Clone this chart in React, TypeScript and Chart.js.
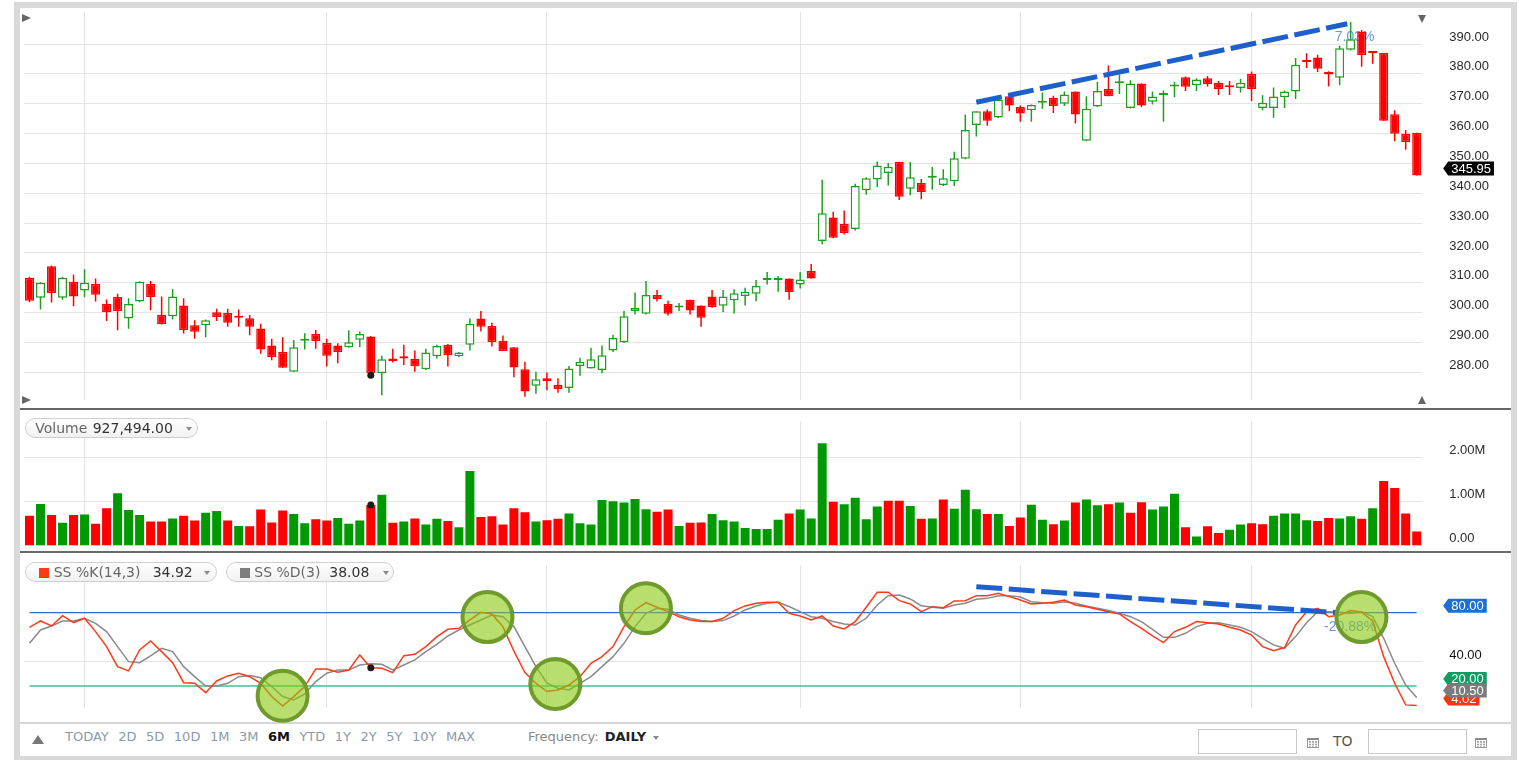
import React, { useEffect, useRef } from 'react';
import { Chart, registerables } from 'chart.js';

Chart.register(...registerables);

// ---------------- data ----------------
const OPEN = [311.7, 305.0, 315.5, 305.0, 310.3, 307.4, 309.6, 303.0, 305.2, 298.0,
  303.7, 309.6, 299.3, 298.8, 302.4, 295.8, 295.8, 300.1, 299.9, 298.8,
  298.1, 294.7, 289.0, 286.8, 280.2, 290.6, 292.8, 289.8, 289.0, 288.4,
  290.9, 292.0, 279.7, 284.6, 285.4, 284.5, 281.0, 285.4, 289.2, 285.4,
  289.2, 298.0, 295.5, 290.6, 288.4, 281.0, 275.5, 278.0, 275.8, 274.7,
  282.1, 281.3, 280.8, 287.3, 290.1, 300.5, 299.6, 305.9, 302.9, 301.7,
  304.3, 302.4, 305.4, 302.3, 304.1, 305.6, 306.3, 310.9, 310.9, 311.4,
  309.4, 313.9, 324.0, 331.9, 329.7, 328.0, 341.0, 344.6, 346.8, 350.5,
  341.5, 343.4, 345.2, 342.8, 344.0, 351.6, 362.9, 367.5, 365.4, 372.5,
  368.9, 367.8, 370.3, 372.0, 370.0, 374.1, 357.6, 369.1, 374.9, 376.9,
  368.6, 376.8, 370.7, 372.9, 375.8, 378.9, 376.2, 378.5, 377.0, 375.8,
  375.3, 380.0, 368.6, 368.6, 372.2, 374.1, 384.3, 385.5, 380.6, 378.7,
  388.1, 394.1, 387.1, 387.0, 366.5, 359.9, 360.3];
const HIGH = [312.0, 310.2, 315.8, 312.0, 312.8, 314.5, 311.4, 304.4, 306.3, 304.8,
  310.5, 310.6, 305.4, 307.9, 304.8, 297.4, 297.7, 301.3, 301.3, 301.0,
  299.2, 296.3, 291.2, 291.7, 290.8, 293.1, 294.2, 291.2, 289.7, 294.1,
  293.7, 292.2, 285.5, 287.9, 289.2, 287.3, 287.9, 289.2, 289.5, 286.8,
  298.0, 300.5, 296.6, 292.3, 288.4, 283.5, 280.2, 279.9, 278.0, 282.1,
  284.9, 288.2, 289.0, 292.6, 300.5, 306.7, 310.6, 307.6, 304.0, 303.2,
  304.3, 302.4, 307.6, 307.6, 307.8, 308.3, 310.9, 313.6, 312.3, 311.4,
  313.6, 316.3, 344.5, 333.8, 334.2, 343.2, 345.4, 350.6, 350.1, 350.5,
  350.5, 344.8, 348.8, 348.0, 353.9, 366.4, 367.5, 368.1, 372.2, 372.7,
  369.4, 369.7, 373.8, 372.7, 374.1, 374.1, 372.5, 377.4, 382.8, 379.8,
  377.9, 376.8, 374.1, 374.4, 377.4, 379.1, 378.5, 379.3, 377.6, 377.6,
  378.4, 380.8, 372.8, 375.4, 374.4, 385.3, 386.9, 386.4, 380.9, 389.4,
  397.4, 394.7, 387.1, 387.0, 367.8, 361.2, 360.3];
const LOW = [303.5, 301.0, 303.4, 304.3, 302.1, 305.2, 303.7, 297.2, 294.1, 294.6,
  303.5, 300.8, 296.0, 297.7, 293.0, 291.2, 291.7, 297.2, 295.3, 295.3,
  292.4, 286.2, 284.0, 281.5, 280.2, 287.6, 287.9, 281.9, 283.0, 288.2,
  288.4, 279.0, 272.3, 283.3, 282.4, 280.2, 280.8, 284.6, 281.9, 285.1,
  287.3, 293.7, 288.6, 287.1, 278.3, 271.8, 272.8, 274.0, 273.1, 273.1,
  278.8, 281.3, 279.7, 286.8, 289.8, 299.4, 299.4, 303.7, 299.0, 300.5,
  299.4, 295.3, 301.6, 300.2, 299.7, 302.4, 303.8, 309.4, 307.0, 304.3,
  308.1, 311.4, 322.9, 324.9, 326.2, 327.5, 339.5, 342.1, 342.6, 337.7,
  339.3, 338.0, 341.2, 342.4, 342.4, 351.4, 359.0, 362.6, 365.2, 367.5,
  364.0, 364.0, 368.3, 366.9, 369.2, 363.4, 357.4, 368.9, 372.5, 373.3,
  368.4, 368.9, 369.7, 364.0, 372.2, 374.3, 374.3, 375.8, 372.9, 372.9,
  373.8, 370.9, 367.8, 365.3, 368.6, 371.6, 382.0, 380.6, 375.8, 376.2,
  387.8, 382.4, 383.4, 364.3, 357.4, 354.6, 345.95];
const CLOSE = [304.0, 310.0, 306.6, 311.7, 305.4, 310.0, 306.0, 300.1, 300.5, 302.9,
  310.3, 305.2, 296.1, 305.4, 294.1, 293.6, 297.4, 298.5, 296.6, 298.3,
  295.3, 287.6, 285.1, 281.5, 288.4, 291.2, 290.4, 285.5, 286.8, 290.1,
  292.8, 279.7, 284.4, 283.8, 284.6, 282.0, 286.6, 288.8, 285.7, 286.6,
  296.3, 295.3, 290.1, 287.1, 281.6, 273.6, 277.7, 277.0, 274.4, 281.3,
  283.5, 284.4, 285.7, 291.5, 298.8, 301.6, 305.9, 304.5, 299.6, 301.9,
  300.7, 298.3, 301.9, 305.4, 306.5, 307.0, 308.9, 311.2, 311.7, 306.8,
  311.1, 311.4, 333.3, 325.1, 326.7, 342.4, 345.0, 349.3, 348.9, 338.8,
  345.4, 340.4, 345.5, 345.0, 351.7, 361.2, 367.5, 364.3, 371.4, 369.4,
  366.7, 369.6, 370.6, 369.2, 373.1, 366.4, 368.3, 374.3, 372.5, 377.2,
  376.8, 369.4, 372.4, 373.1, 376.1, 375.7, 378.1, 376.5, 374.9, 375.5,
  377.0, 374.9, 370.3, 372.4, 374.1, 383.1, 384.0, 381.7, 379.8, 388.6,
  391.6, 386.3, 387.0, 364.3, 359.9, 357.2, 345.95];
const VOLUME = [680000, 950000, 700000, 520000, 700000, 710000, 500000, 850000, 1190000, 810000,
  700000, 550000, 550000, 620000, 680000, 570000, 750000, 790000, 570000, 450000,
  440000, 820000, 530000, 800000, 720000, 510000, 600000, 570000, 630000, 500000,
  570000, 927494, 1160000, 520000, 550000, 620000, 480000, 610000, 560000, 420000,
  1700000, 650000, 670000, 480000, 850000, 760000, 550000, 580000, 610000, 730000,
  510000, 480000, 1040000, 1010000, 980000, 1060000, 830000, 770000, 820000, 450000,
  520000, 530000, 720000, 580000, 550000, 400000, 380000, 380000, 590000, 730000,
  820000, 620000, 2330000, 1000000, 940000, 1090000, 600000, 890000, 1020000, 1020000,
  900000, 610000, 620000, 1050000, 840000, 1270000, 830000, 720000, 720000, 450000,
  640000, 930000, 590000, 490000, 570000, 980000, 1050000, 920000, 940000, 980000,
  750000, 990000, 820000, 890000, 1180000, 420000, 210000, 440000, 290000, 360000,
  480000, 510000, 490000, 680000, 730000, 730000, 580000, 560000, 630000, 620000,
  670000, 610000, 850000, 1470000, 1310000, 730000, 320000];
const PCT_K = [68.0, 73.2, 69.1, 77.6, 71.8, 75.4, 64.5, 52.2, 35.8, 32.3,
  49.5, 56.8, 48.1, 39.1, 22.7, 22.2, 14.5, 24.1, 28.2, 30.4,
  27.6, 22.2, 11.3, 3.6, 11.3, 19.5, 33.9, 33.9, 31.2, 33.1,
  45.4, 34.92, 34.5, 30.9, 44.8, 45.9, 52.2, 60.4, 66.4, 67.2,
  74.0, 80.3, 78.9, 68.6, 48.5, 31.0, 22.2, 15.4, 16.7, 20.8,
  27.6, 38.6, 44.0, 52.2, 68.6, 82.2, 88.2, 84.4, 80.8, 76.7,
  74.0, 72.7, 72.7, 75.4, 81.7, 85.5, 87.7, 88.5, 88.5, 79.5,
  77.3, 74.0, 77.3, 69.1, 66.7, 72.7, 84.4, 96.7, 96.7, 89.8,
  87.1, 80.8, 84.9, 84.1, 89.6, 89.8, 93.9, 93.9, 95.8, 93.1,
  90.4, 87.1, 87.7, 88.5, 90.4, 86.3, 84.9, 82.7, 80.8, 78.9,
  72.7, 67.2, 60.9, 55.5, 64.5, 68.0, 72.7, 71.8, 70.7, 68.0,
  65.8, 61.7, 52.2, 48.9, 51.4, 69.9, 80.8, 83.6, 76.7, 78.1,
  81.7, 80.3, 73.2, 44.0, 22.2, 4.5, 4.02];
const PCT_D = [54.9, 65.8, 69.1, 73.2, 73.2, 75.4, 71.3, 64.5, 52.2, 39.9,
  39.1, 44.6, 50.8, 48.1, 35.8, 27.6, 20.0, 20.0, 22.2, 27.6,
  28.5, 26.8, 19.5, 11.3, 8.5, 13.5, 23.6, 30.4, 33.1, 33.1,
  37.2, 38.08, 37.7, 33.1, 37.2, 41.3, 48.1, 54.1, 60.9, 65.8,
  69.9, 74.0, 78.1, 76.7, 68.6, 52.2, 35.8, 22.2, 18.1, 16.7,
  22.2, 27.6, 35.8, 44.0, 54.9, 68.6, 79.5, 83.6, 82.7, 78.1,
  75.4, 73.5, 72.7, 73.5, 77.3, 82.2, 85.5, 87.7, 88.5, 85.0,
  80.8, 76.7, 75.4, 72.7, 70.7, 69.9, 75.4, 86.3, 93.9, 94.5,
  91.2, 85.7, 84.4, 83.6, 86.3, 87.7, 91.0, 91.7, 93.9, 93.9,
  92.8, 89.0, 88.2, 87.7, 89.0, 87.7, 85.5, 83.6, 81.7, 79.5,
  76.7, 72.7, 66.4, 59.8, 59.8, 63.1, 68.6, 71.3, 71.8, 69.9,
  68.0, 64.5, 59.0, 53.6, 50.8, 60.4, 71.8, 80.8, 80.8, 80.3,
  79.5, 80.8, 76.7, 59.0, 38.6, 20.8, 10.5];

const LABELS = CLOSE.map((_, i) => `D${i + 1}`);
const MONTH_START_INDEX = [5, 27, 47, 70, 90, 111];
const PRICE_TICKS = [280, 290, 300, 310, 320, 330, 340, 350, 360, 370, 380, 390];
const VOLUME_TICKS = [0, 1000000, 2000000];
const STOCH_TICKS = [40];
const STOCH_OVERBOUGHT = 80;
const STOCH_OVERSOLD = 20;
const HOVER_INDEX = 31;
const PERIODS = ['TODAY', '2D', '5D', '10D', '1M', '3M', '6M', 'YTD', '1Y', '2Y', '5Y', '10Y', 'MAX'];
const ACTIVE_PERIOD = '6M';

// annotations, in data coordinates (category index, value)
const PRICE_TREND = { from: [86.0, 370.5], to: [119.7, 396.8] };
const PRICE_TREND_LABEL = { text: '7.03%', at: [120.36, 392.4] };
const STOCH_TREND = { from: [86.0, 101.2], to: [118.75, 80.0] };
const STOCH_TREND_LABEL = { text: '-20.88%', at: [119.95, 68.2] };
const STOCH_CIRCLES = [[22.99, 12.0], [41.6, 76.4], [47.76, 21.6], [55.99, 83.6], [120.98, 76.4]];

// ---------------- style ----------------
const RED = '#ff0000';
const GREEN = '#1f9f1f';
const VOL_GREEN = '#009a00';
const K_COLOR = '#ff3a1a';
const D_COLOR = '#8a8a8a';
const GRID = '#e4e4e4';
const AXIS_FONT = '"Liberation Sans", Arial, sans-serif';
const UI_FONT = '"DejaVu Sans", Verdana, sans-serif';
const CANVAS_W = 1491;
const PAD_LEFT = 0.8;
const AXIS_W = 88.8;

function zeroPadding(s: any) {
  s.paddingTop = 0;
  s.paddingBottom = 0;
  s.paddingLeft = 0;
  s.paddingRight = 0;
}

function xScale(): any {
  return {
    type: 'category',
    offset: true,
    grid: {
      offset: false,
      drawTicks: false,
      lineWidth: 1,
      color: (c: any) => (MONTH_START_INDEX.includes(c.index) ? GRID : 'rgba(0,0,0,0)'),
    },
    ticks: { display: false, autoSkip: false },
    border: { display: false },
    afterFit: (s: any) => { s.height = 0; zeroPadding(s); },
  };
}

function yScale(min: number, max: number, ticks: number[], fmt: (v: number) => string, color: string, offset: number): any {
  return {
    position: 'right',
    min,
    max,
    afterBuildTicks: (s: any) => { s.ticks = ticks.map((v) => ({ value: v })); },
    afterFit: (s: any) => { s.width = AXIS_W; zeroPadding(s); },
    grid: { color: GRID, drawTicks: true, tickLength: 27, tickColor: 'rgba(0,0,0,0)', lineWidth: 1 },
    border: { display: false },
    ticks: {
      padding: 0,
      labelOffset: offset,
      color,
      font: { family: AXIS_FONT, size: 13 },
      callback: (v: any) => fmt(Number(v)),
    },
  };
}

function baseOptions(padding: any, y: any): any {
  return {
    responsive: false,
    animation: false,
    devicePixelRatio: 1,
    events: [],
    layout: { padding },
    plugins: { legend: { display: false }, tooltip: { enabled: false } },
    scales: { x: xScale(), y },
  };
}

function drawFlag(ctx: CanvasRenderingContext2D, tipX: number, cy: number, text: string, bg: string) {
  ctx.save();
  ctx.font = `13px ${AXIS_FONT}`;
  const w = ctx.measureText(text).width;
  const h = 14;
  const x0 = tipX + 5;
  const x1 = tipX + 8 + w + 3;
  ctx.beginPath();
  ctx.moveTo(tipX, cy);
  ctx.lineTo(x0, cy - h / 2);
  ctx.lineTo(x1, cy - h / 2);
  ctx.lineTo(x1, cy + h / 2);
  ctx.lineTo(x0, cy + h / 2);
  ctx.closePath();
  ctx.fillStyle = bg;
  ctx.fill();
  ctx.fillStyle = '#ffffff';
  ctx.textAlign = 'left';
  ctx.textBaseline = 'middle';
  ctx.fillText(text, tipX + 8, cy + 0.5);
  ctx.restore();
}

function drawDashed(ctx: CanvasRenderingContext2D, chart: any, seg: any) {
  const { x, y } = chart.scales;
  ctx.save();
  ctx.strokeStyle = '#1e5fcc';
  ctx.lineWidth = 5;
  ctx.setLineDash([26, 6.5]);
  ctx.lineCap = 'butt';
  ctx.beginPath();
  ctx.moveTo(x.getPixelForValue(seg.from[0]), y.getPixelForValue(seg.from[1]));
  ctx.lineTo(x.getPixelForValue(seg.to[0]), y.getPixelForValue(seg.to[1]));
  ctx.stroke();
  ctx.restore();
}

function drawLabel(ctx: CanvasRenderingContext2D, chart: any, lab: any) {
  const { x, y } = chart.scales;
  ctx.save();
  ctx.font = `14px ${AXIS_FONT}`;
  ctx.fillStyle = '#6b93e2';
  ctx.textAlign = 'center';
  ctx.textBaseline = 'middle';
  ctx.fillText(lab.text, x.getPixelForValue(lab.at[0]), y.getPixelForValue(lab.at[1]));
  ctx.restore();
}

const pricePlugin = {
  id: 'priceAnnotations',
  beforeDatasetsDraw(chart: any) { drawLabel(chart.ctx, chart, PRICE_TREND_LABEL); },
  afterDatasetsDraw(chart: any) { drawDashed(chart.ctx, chart, PRICE_TREND); },
  afterDraw(chart: any) {
    const last = CLOSE[CLOSE.length - 1];
    drawFlag(chart.ctx, chart.chartArea.right + 21, chart.scales.y.getPixelForValue(last) - 7, last.toFixed(2), '#000000');
  },
};

const stochPlugin = {
  id: 'stochAnnotations',
  beforeDatasetsDraw(chart: any) {
    const { ctx } = chart;
    const { x, y } = chart.scales;
    const x0 = x.getPixelForValue(0);
    const x1 = x.getPixelForValue(PCT_K.length - 1);
    ctx.save();
    ctx.lineWidth = 1.2;
    ctx.strokeStyle = '#3568d4';
    ctx.beginPath();
    ctx.moveTo(x0, y.getPixelForValue(STOCH_OVERBOUGHT));
    ctx.lineTo(x1, y.getPixelForValue(STOCH_OVERBOUGHT));
    ctx.stroke();
    ctx.lineWidth = 1.6;
    ctx.strokeStyle = '#3ec490';
    ctx.beginPath();
    ctx.moveTo(x0, y.getPixelForValue(STOCH_OVERSOLD));
    ctx.lineTo(x1, y.getPixelForValue(STOCH_OVERSOLD));
    ctx.stroke();
    ctx.restore();
    drawLabel(ctx, chart, STOCH_TREND_LABEL);
  },
  afterDatasetsDraw(chart: any) {
    const { ctx } = chart;
    const { x, y } = chart.scales;
    drawDashed(ctx, chart, STOCH_TREND);
    ctx.save();
    for (const [i, v] of STOCH_CIRCLES) {
      ctx.beginPath();
      ctx.arc(x.getPixelForValue(i), y.getPixelForValue(v), 25, 0, Math.PI * 2);
      ctx.fillStyle = 'rgba(137,200,13,0.6)';
      ctx.fill();
      ctx.lineWidth = 4;
      ctx.strokeStyle = '#6e9b2c';
      ctx.stroke();
    }
    ctx.restore();
  },
  afterDraw(chart: any) {
    const { ctx } = chart;
    const y = chart.scales.y;
    const tip = chart.chartArea.right + 21;
    const lastK = PCT_K[PCT_K.length - 1];
    const lastD = PCT_D[PCT_D.length - 1];
    drawFlag(ctx, tip, y.getPixelForValue(STOCH_OVERBOUGHT) - 7, STOCH_OVERBOUGHT.toFixed(2), '#1d6fd6');
    drawFlag(ctx, tip, y.getPixelForValue(STOCH_OVERSOLD) - 7, STOCH_OVERSOLD.toFixed(2), '#0f9e62');
    drawFlag(ctx, tip, y.getPixelForValue(lastK) - 7, lastK.toFixed(2), '#ff3311');
    drawFlag(ctx, tip, y.getPixelForValue(lastD) - 7, lastD.toFixed(2), '#7b7b7b');
  },
};

function priceConfig(): any {
  const up = CLOSE.map((c, i) => c >= OPEN[i]);
  return {
    type: 'bar',
    data: {
      labels: LABELS,
      datasets: [
        {
          type: 'line',
          data: CLOSE.map((_, i) => (i === HOVER_INDEX ? LOW[i] : null)),
          showLine: false,
          pointRadius: 3.5,
          pointBorderWidth: 0,
          pointBackgroundColor: '#1b1b1b',
          pointBorderColor: '#1b1b1b',
        },
        {
          data: OPEN.map((o, i) => [o, CLOSE[i]]),
          backgroundColor: up.map((u) => (u ? '#ffffff' : RED)),
          borderColor: up.map((u) => (u ? GREEN : RED)),
          borderWidth: 1.5,
          borderSkipped: false,
          barThickness: 9,
          minBarLength: 2,
          grouped: false,
          inflateAmount: 0,
        },
        {
          data: LOW.map((l, i) => [l, HIGH[i]]),
          backgroundColor: up.map((u) => (u ? GREEN : RED)),
          borderWidth: 0,
          barThickness: 1.5,
          grouped: false,
          inflateAmount: 0,
        },
      ],
    },
    options: baseOptions(
      { left: PAD_LEFT, right: 0, top: 0, bottom: 0 },
      yScale(270.71, 400.74, PRICE_TICKS, (v) => v.toFixed(2), '#2a2a2a', -7),
    ),
    plugins: [pricePlugin],
  };
}

function volumeConfig(): any {
  const colors = VOLUME.map((_, i) => {
    const up = i === 0 ? CLOSE[0] >= OPEN[0] : CLOSE[i] >= CLOSE[i - 1];
    return up ? VOL_GREEN : RED;
  });
  return {
    type: 'bar',
    data: {
      labels: LABELS,
      datasets: [
        {
          type: 'line',
          data: VOLUME.map((v, i) => (i === HOVER_INDEX ? v : null)),
          showLine: false,
          pointRadius: 3.5,
          pointBorderWidth: 0,
          pointBackgroundColor: '#1b1b1b',
          pointBorderColor: '#1b1b1b',
        },
        {
          data: VOLUME,
          backgroundColor: colors,
          borderWidth: 0,
          barThickness: 9,
          grouped: false,
          inflateAmount: 0,
        },
      ],
    },
    options: baseOptions(
      { left: PAD_LEFT, right: 0, top: 11, bottom: 4.3 },
      yScale(0, 2834000, VOLUME_TICKS, (v) => (v === 0 ? '0.00' : (v / 1e6).toFixed(2) + 'M'), '#2a2a2a', -7),
    ),
  };
}

function stochConfig(): any {
  return {
    type: 'line',
    data: {
      labels: LABELS,
      datasets: [
        {
          data: PCT_K.map((v, i) => (i === HOVER_INDEX ? v : null)),
          showLine: false,
          pointRadius: 3.5,
          pointBorderWidth: 0,
          pointBackgroundColor: '#1b1b1b',
          pointBorderColor: '#1b1b1b',
        },
        { data: PCT_K, borderColor: K_COLOR, borderWidth: 1.5, pointRadius: 0, tension: 0, fill: false },
        { data: PCT_D, borderColor: D_COLOR, borderWidth: 1.5, pointRadius: 0, tension: 0, fill: false },
      ],
    },
    options: baseOptions(
      { left: PAD_LEFT, right: 0, top: 12, bottom: 16 },
      yScale(1.96, 119.0, STOCH_TICKS, (v) => v.toFixed(2), '#111111', -6),
    ),
    plugins: [stochPlugin],
  };
}

// ---------------- UI bits ----------------
const abs = (left: number, top: number, extra: any = {}): any => ({ position: 'absolute', left, top, ...extra });

function Caret({ left, top }: { left: number; top: number }) {
  return (
    <div style={abs(left, top, {
      width: 0, height: 0,
      borderLeft: '3.5px solid transparent', borderRight: '3.5px solid transparent', borderTop: '4px solid #8a8a8a',
    })} />
  );
}

function Pill({ left, top, width, children }: any) {
  return (
    <div style={abs(left, top, {
      width, height: 20.6, boxSizing: 'border-box', border: '1px solid #cfcfcf', borderRadius: 11,
      background: 'linear-gradient(#ffffff, #f1f1f1)', fontFamily: UI_FONT, fontSize: 14, lineHeight: '19px',
    })}>{children}</div>
  );
}

function CalendarIcon({ left, top }: { left: number; top: number }) {
  return (
    <div style={abs(left, top, {
      width: 12, height: 10, boxSizing: 'border-box', border: '1px solid #9a9a9a', borderTop: '2px solid #8a8a8a',
      backgroundColor: '#a8a8a8',
      backgroundImage: 'linear-gradient(#ffffff 1px, transparent 1px), linear-gradient(90deg, #ffffff 1px, transparent 1px)',
      backgroundSize: '3px 2.7px',
    })} />
  );
}

export default function App() {
  const priceRef = useRef<HTMLCanvasElement>(null);
  const volRef = useRef<HTMLCanvasElement>(null);
  const stochRef = useRef<HTMLCanvasElement>(null);

  useEffect(() => {
    document.body.style.overflow = 'hidden';
    const charts = [
      new Chart(priceRef.current as HTMLCanvasElement, priceConfig()),
      new Chart(volRef.current as HTMLCanvasElement, volumeConfig()),
      new Chart(stochRef.current as HTMLCanvasElement, stochConfig()),
    ];
    return () => charts.forEach((c) => c.destroy());
  }, []);

  const volText = VOLUME[HOVER_INDEX].toLocaleString('en-US', { minimumFractionDigits: 2, maximumFractionDigits: 2 });

  return (
    <div style={{
      position: 'absolute', left: 14, top: 2, width: 1503, height: 758, boxSizing: 'border-box',
      borderStyle: 'solid', borderColor: '#d9d9d9', borderWidth: '6px 6px 4px 6px', background: '#ffffff',
    }}>
      <div style={abs(0, 714.3, { width: CANVAS_W, height: 1.5, background: '#d6d6d6' })} />

      <canvas ref={priceRef} width={CANVAS_W} height={396} style={abs(0, 0, { width: CANVAS_W, height: 396 })} />
      <canvas ref={volRef} width={CANVAS_W} height={140} style={abs(0, 402, { width: CANVAS_W, height: 140 })} />
      <canvas ref={stochRef} width={CANVAS_W} height={171} style={abs(0, 545, { width: CANVAS_W, height: 171 })} />

      <div style={abs(0, 399.5, { width: CANVAS_W, height: 2.5, background: '#666666' })} />
      <div style={abs(0, 542.8, { width: CANVAS_W, height: 2.4, background: '#6a6a6a' })} />

      <div style={abs(2, 6, { width: 0, height: 0, borderTop: '4.5px solid transparent', borderBottom: '4.5px solid transparent', borderLeft: '9px solid #666' })} />
      <div style={abs(2, 388, { width: 0, height: 0, borderTop: '4.5px solid transparent', borderBottom: '4.5px solid transparent', borderLeft: '9px solid #666' })} />
      <div style={abs(1398.3, 6.5, { width: 0, height: 0, borderLeft: '4.5px solid transparent', borderRight: '4.5px solid transparent', borderTop: '8.5px solid #666' })} />
      <div style={abs(1397.7, 388, { width: 0, height: 0, borderLeft: '4.8px solid transparent', borderRight: '4.8px solid transparent', borderBottom: '8.5px solid #666' })} />

      <Pill left={5} top={409.7} width={173}>
        <span style={abs(9.3, 0, { color: '#666' })}>Volume</span>
        <span style={abs(66.7, 0, { color: '#333' })}>{volText}</span>
        <Caret left={160} top={8} />
      </Pill>

      <Pill left={5} top={553.7} width={191.7}>
        <div style={abs(13.3, 5.6, { width: 9.5, height: 9.5, background: K_COLOR })} />
        <span style={abs(27.7, 0, { color: '#666' })}>SS %K(14,3)</span>
        <span style={abs(126.7, 0, { color: '#333' })}>{PCT_K[HOVER_INDEX].toFixed(2)}</span>
        <Caret left={178} top={8} />
      </Pill>
      <Pill left={205.7} top={553.7} width={168.6}>
        <div style={abs(13.6, 5.6, { width: 9.5, height: 9.5, background: '#7d7d7d' })} />
        <span style={abs(27.6, 0, { color: '#666' })}>SS %D(3)</span>
        <span style={abs(102.6, 0, { color: '#333' })}>{PCT_D[HOVER_INDEX].toFixed(2)}</span>
        <Caret left={156} top={8} />
      </Pill>

      <div style={abs(12.3, 727, { width: 0, height: 0, borderLeft: '6px solid transparent', borderRight: '6px solid transparent', borderBottom: '9px solid #777' })} />
      <div style={abs(45, 720, { display: 'flex', gap: 9.5, fontFamily: UI_FONT, fontSize: 13, lineHeight: '17px', whiteSpace: 'nowrap' })}>
        {PERIODS.map((p) => (
          <span key={p} style={p === ACTIVE_PERIOD ? { color: '#111', fontWeight: 'bold' } : { color: '#8c99aa' }}>{p}</span>
        ))}
      </div>
      <div style={abs(508, 720, { fontFamily: UI_FONT, fontSize: 13, lineHeight: '17px', whiteSpace: 'nowrap', color: '#888' })}>
        Frequency: <span style={{ color: '#222', fontWeight: 'bold', marginLeft: 2 }}>DAILY</span>
      </div>
      <Caret left={633} top={728} />

      <div style={abs(1178, 721, { width: 99, height: 25, boxSizing: 'border-box', border: '1px solid #c9c9c9', background: '#fff' })} />
      <CalendarIcon left={1287} top={729.5} />
      <div style={abs(1313, 725, { fontFamily: UI_FONT, fontSize: 14, lineHeight: '17px', color: '#555' })}>TO</div>
      <div style={abs(1348, 721, { width: 99, height: 25, boxSizing: 'border-box', border: '1px solid #c9c9c9', background: '#fff' })} />
      <CalendarIcon left={1455} top={729.5} />
    </div>
  );
}
